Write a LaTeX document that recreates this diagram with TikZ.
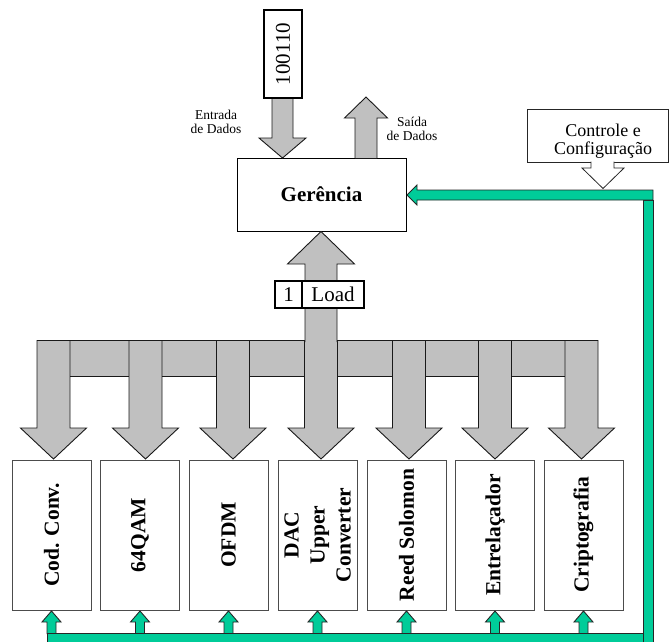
\documentclass[tikz,border=0pt]{standalone}
\usepackage{fontspec}
\setmainfont{Liberation Serif}
\definecolor{busgray}{HTML}{C0C0C0}
\definecolor{busgreen}{HTML}{00CC99}
\begin{document}
\begin{tikzpicture}[x=1pt,y=-1pt,
  graybody/.style={fill=busgray,draw=black!90,line width=0.9pt,line join=miter},
  greenbody/.style={fill=busgreen,draw=black!85,line width=0.9pt,line join=miter},
  blockbox/.style={draw=black!70,line width=1pt,fill=white,minimum width=79pt,minimum height=150pt,inner sep=0pt},
  blocktext/.style={rotate=90,align=center,font=\fontsize{21.5}{26}\selectfont\bfseries},
  tagbox/.style={draw=black,line width=2.2pt,fill=white,inner sep=0pt},
  mgrbox/.style={draw=black,line width=0.8pt,fill=white,minimum width=169pt,minimum height=73pt,inner sep=0pt},
  smalltext/.style={align=center,font=\fontsize{13.5}{14.5}\selectfont}
]
\useasboundingbox (0,0) rectangle (671,641);
\clip (0,0) rectangle (671,641);

% ---- processing blocks ----
\foreach \cx/\nm/\txt in {51.5/b1/{Cod. Conv.},140/b2/{64QAM},228.5/b3/{OFDM},
  317.5/b4/{DAC\\Upper\\Converter},406.5/b5/{Reed Solomon},495/b6/{Entrelaçador},583.5/b7/{Criptografia}}{
  \node[blockbox] (\nm) at (\cx,535) {};
  \node[blocktext] (\nm t) at (\nm.center) {\txt};
}

% ---- gray distribution bus ----
\fill[busgray] (37,340) rectangle (598,376);
\foreach \cx in {53.5,145.5,233,321,409,495,581.5}{
  \draw[graybody] ({\cx-16.5},340) -- ({\cx-16.5},428) -- ({\cx-33},428) -- (\cx,459)
    -- ({\cx+33},428) -- ({\cx+16.5},428) -- ({\cx+16.5},340);
}
% upward arrow into the manager
\node[mgrbox] (mgr) at (321.5,194.5) {\fontsize{21}{25}\selectfont\bfseries Gerência};
\draw[graybody] (305,342) -- (305,264) -- (287.5,264) -- (321,231.5) -- (354.5,264) -- (337,264) -- (337,342);
\draw[black!90,line width=0.9pt] (37,340) -- (305,340) (337,340) -- (598,340);
\foreach \a/\b in {70/129,162/217,249/305,337/392,426/478,512/565}{
  \draw[black!90,line width=0.9pt] (\a,376) -- (\b,376);
}
% load tag
\node[tagbox,minimum width=27pt,minimum height=27pt] (tag1) at (288.5,294.5) {\fontsize{21}{25}\selectfont 1};
\node[tagbox,minimum width=62pt,minimum height=27pt] (tag2) at (333,294.5) {\fontsize{21}{25}\selectfont Load};

% ---- data in / data out ----
\draw[graybody] (272,98) -- (272,138) -- (259,138) -- (282.5,158) -- (306,138) -- (293,138) -- (293,98);
\node[tagbox,minimum width=38pt,minimum height=88pt] (word) at (283,54) {};
\node[rotate=90,font=\fontsize{21}{24}\selectfont] (wordt) at (word.center) {100110};
\draw[graybody] (355,158) -- (355,118) -- (344.5,118) -- (366,97) -- (387.5,118) -- (377,118) -- (377,158);
\node[smalltext] (din) at (216,122) {Entrada\\de Dados};
\node[smalltext] (dout) at (412,129) {Saída\\de Dados};

% ---- control and configuration ----
\node[draw=black!85,line width=0.8pt,fill=white,minimum width=141pt,minimum height=53pt,inner sep=0pt] (ctl) at (597.5,135.5) {};
\node[align=center,font=\fontsize{18}{18.5}\selectfont] (ctlt) at (603,141) {Controle e\\Configuração};
\draw[fill=white,draw=black!85,line width=0.8pt] (591,161.5) -- (591,168) -- (582,168) -- (603,188.5)
  -- (624,168) -- (614,168) -- (614,161.5);

% ---- green control bus ----
\foreach \cx in {51.5,140,228.5,317.5,406.5,495,583.5}{
  \draw[greenbody] ({\cx-4.5},634) -- ({\cx-4.5},622) -- ({\cx-9.5},622) -- (\cx,611)
    -- ({\cx+9.5},622) -- ({\cx+4.5},622) -- ({\cx+4.5},634);
}
\draw[greenbody] (47,633) rectangle (643,652);
\draw[greenbody] (643,200) rectangle (653,652);
\draw[greenbody] (653,200) -- (417,200) -- (417,205) -- (407,195) -- (417,185) -- (417,190) -- (653,190) -- cycle;
\end{tikzpicture}
\end{document}
